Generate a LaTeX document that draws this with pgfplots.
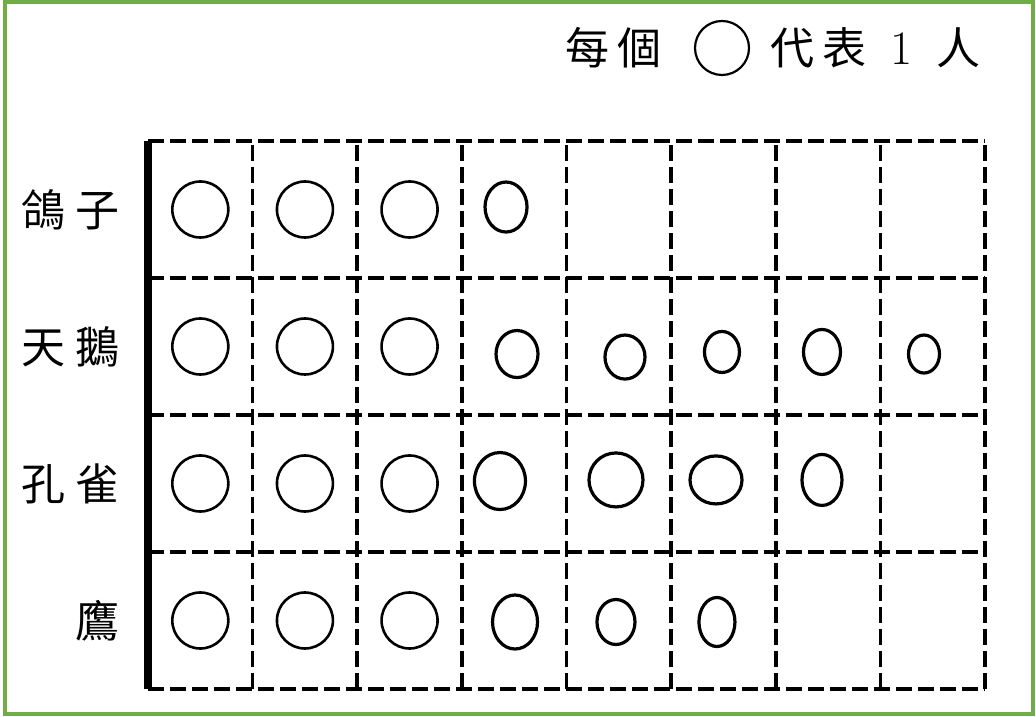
\documentclass[border=0pt]{standalone}
\usepackage{pgfplots}
\pgfplotsset{compat=1.18}
\usepackage{pgfplotstable}
\usepackage{fontspec}
\newfontfamily\cjk{Noto Sans CJK TC}
\definecolor{framegreen}{RGB}{112,173,71}
\pgfplotstableread{
x y w h
0.5 3.5 56 56
1.5 3.5 56 56
2.5 3.5 56 56
0.5 2.5 56 56
1.5 2.5 56 56
2.5 2.5 56 56
0.5 1.5 56 56
1.5 1.5 56 56
2.5 1.5 56 56
0.5 0.5 56 56
1.5 0.5 56 56
2.5 0.5 56 56
}\bigcircles
\pgfplotstableread{
x y w h
3.422 3.518 42 50
3.527 2.445 42 47
4.559 2.423 40 44
5.486 2.460 35 41
6.442 2.460 37 45
7.417 2.445 31 38
3.364 1.518 51 57
4.473 1.526 54 54
5.429 1.526 52 48
6.442 1.526 40 51
3.508 0.489 45 54
4.473 0.489 38 45
5.438 0.489 36 49
}\smallcircles
\begin{document}
\begin{tikzpicture}
\useasboundingbox (0,0) rectangle (518pt,358pt);
\draw[framegreen, line width=2pt] (2.5pt,1pt) rectangle (516.5pt,357pt);
\begin{axis}[
  at={(74pt,13.5pt)}, anchor=south west,
  scale only axis, width=418.5pt, height=274pt,
  xmin=0, xmax=8, ymin=0, ymax=4,
  axis line style={draw=none},
  xtick={0,...,8}, xticklabels={},
  ytick={0.5,1.5,2.5,3.5},
  yticklabels={鷹, {孔\hspace{5pt}雀}, {天\hspace{5pt}鵝}, {鴿\hspace{5pt}子}},
  minor ytick={0,...,4},
  xmajorgrids, yminorgrids, ymajorgrids=false,
  major tick length=0pt, minor tick length=0pt,
  major grid style={black, line width=1.8pt, dash pattern=on 8pt off 3pt},
  minor grid style={black, line width=1.8pt, dash pattern=on 8pt off 3pt},
  yticklabel style={font=\cjk\fontsize{22}{22}\selectfont, inner sep=0pt, anchor=east, xshift=-14pt},
  clip=false,
  circ/.style={scatter, only marks, mark=o, mark size=0.25pt, black,
    visualization depends on={\thisrow{w} \as \wid},
    visualization depends on={\thisrow{h} \as \hei},
    scatter/@pre marker code/.code={\pgfscope\pgftransformxscale{\wid}\pgftransformyscale{\hei}},
    scatter/@post marker code/.code={\endpgfscope}},
]
\addplot[circ, line width=1.3pt] table[x=x,y=y] {\bigcircles};
\addplot[circ, line width=1.6pt] table[x=x,y=y] {\smallcircles};
\draw[line width=4pt] (rel axis cs:0,0) -- (rel axis cs:0,1);
\end{axis}
\node[anchor=east, font=\cjk\fontsize{22}{22}\selectfont, inner sep=0pt] at (331pt,334pt) {每\hspace{4pt}個};
\draw[line width=1.1pt] (361pt,334pt) circle (13.5pt);
\node[anchor=west, font=\cjk\fontsize{22}{22}\selectfont, inner sep=0pt] at (385pt,334pt) {代\hspace{4pt}表\hspace{12pt}{\rmfamily\fontsize{24}{24}\selectfont 1}\hspace{12pt}人};
\end{tikzpicture}
\end{document}
